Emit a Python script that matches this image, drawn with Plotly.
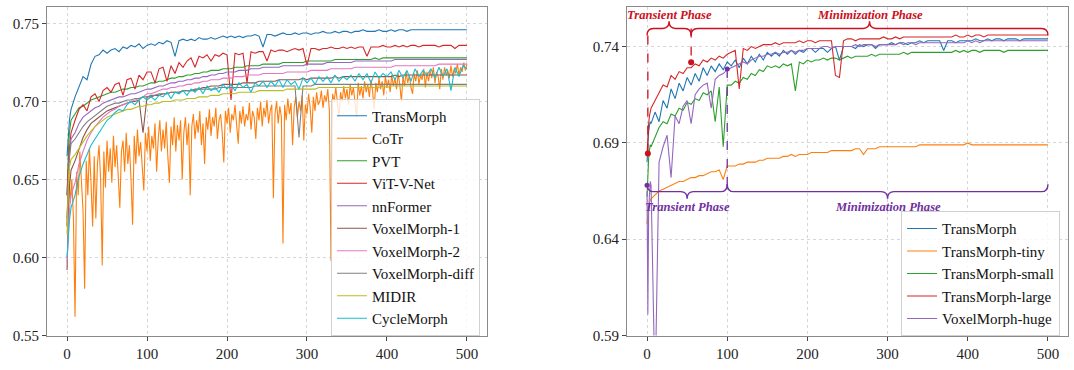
import plotly.graph_objects as go

# ---------------- data ----------------
EPOCHS = [0, 1, 2, 3, 4] + list(range(5, 501, 5))
COTR_EPOCHS = list(range(0, 501, 2))
X_TICKS = [0, 100, 200, 300, 400, 500]
L_YTICKS = [0.55, 0.60, 0.65, 0.70, 0.75]
R_YTICKS = [0.59, 0.64, 0.69, 0.74]

L_NAMES = ["TransMorph", "CoTr", "PVT", "ViT-V-Net", "nnFormer", "VoxelMorph-1",
           "VoxelMorph-2", "VoxelMorph-diff", "MIDIR", "CycleMorph"]
R_NAMES = ["TransMorph", "TransMorph-tiny", "TransMorph-small", "TransMorph-large", "VoxelMorph-huge"]

L_TM = [0.665, 0.675, 0.683, 0.688, 0.692,
        0.695, 0.703, 0.710, 0.716, 0.714, 0.724, 0.729, 0.730, 0.733, 0.731,
        0.733, 0.734, 0.732, 0.735, 0.734, 0.736, 0.735, 0.737, 0.734, 0.736,
        0.737, 0.736, 0.738, 0.737, 0.739, 0.738, 0.729, 0.739, 0.740, 0.739,
        0.740, 0.739, 0.741, 0.740, 0.740, 0.741, 0.740, 0.741, 0.742, 0.741,
        0.742, 0.741, 0.742, 0.741, 0.742, 0.742, 0.743, 0.742, 0.735, 0.743,
        0.743, 0.742, 0.743, 0.744, 0.743, 0.743, 0.744, 0.743, 0.744, 0.744,
        0.743, 0.744, 0.744, 0.745, 0.744, 0.744, 0.745, 0.744, 0.745, 0.745,
        0.744, 0.745, 0.745, 0.746, 0.745, 0.745, 0.745, 0.746, 0.745, 0.745,
        0.746, 0.745, 0.746, 0.746, 0.745, 0.746, 0.746, 0.746, 0.746, 0.746,
        0.746, 0.746, 0.746, 0.746, 0.746, 0.746, 0.746, 0.746, 0.746, 0.746]
L_COTR = [0.620, 0.660, 0.635, 0.650, 0.625, 0.562, 0.655, 0.640, 0.668, 0.645,
          0.630, 0.580, 0.662, 0.640, 0.670, 0.648, 0.620, 0.665, 0.625, 0.660,
          0.672, 0.650, 0.595, 0.668, 0.645, 0.675, 0.655, 0.670, 0.648, 0.678,
          0.658, 0.672, 0.650, 0.632, 0.668, 0.675, 0.655, 0.680, 0.660, 0.672,
          0.650, 0.621, 0.678, 0.660, 0.682, 0.665, 0.674, 0.655, 0.643, 0.680,
          0.668, 0.684, 0.662, 0.678, 0.670, 0.686, 0.655, 0.676, 0.688, 0.668,
          0.682, 0.670, 0.687, 0.665, 0.648, 0.684, 0.672, 0.690, 0.668, 0.685,
          0.675, 0.688, 0.650, 0.680, 0.690, 0.672, 0.686, 0.640, 0.684, 0.692,
          0.676, 0.688, 0.680, 0.694, 0.672, 0.686, 0.660, 0.690, 0.682, 0.695,
          0.678, 0.690, 0.684, 0.696, 0.676, 0.688, 0.692, 0.680, 0.661, 0.694,
          0.686, 0.696, 0.680, 0.692, 0.688, 0.698, 0.682, 0.673, 0.694, 0.686,
          0.697, 0.684, 0.692, 0.688, 0.699, 0.682, 0.694, 0.690, 0.676, 0.696,
          0.688, 0.700, 0.684, 0.696, 0.690, 0.701, 0.686, 0.694, 0.698, 0.638,
          0.692, 0.700, 0.686, 0.697, 0.690, 0.609, 0.698, 0.688, 0.702, 0.692,
          0.699, 0.672, 0.696, 0.703, 0.690, 0.700, 0.694, 0.704, 0.675, 0.698,
          0.692, 0.705, 0.696, 0.680, 0.703, 0.694, 0.706, 0.698, 0.700, 0.707,
          0.696, 0.704, 0.700, 0.708, 0.694, 0.598, 0.705, 0.700, 0.709, 0.697,
          0.690, 0.706, 0.700, 0.710, 0.702, 0.708, 0.698, 0.711, 0.704, 0.709,
          0.700, 0.690, 0.712, 0.704, 0.710, 0.702, 0.713, 0.706, 0.711, 0.703,
          0.714, 0.707, 0.695, 0.712, 0.706, 0.715, 0.708, 0.713, 0.704, 0.716,
          0.709, 0.714, 0.706, 0.717, 0.710, 0.715, 0.708, 0.718, 0.711, 0.700,
          0.716, 0.710, 0.719, 0.712, 0.717, 0.709, 0.705, 0.718, 0.713, 0.720,
          0.711, 0.717, 0.714, 0.721, 0.709, 0.719, 0.713, 0.720, 0.715, 0.722,
          0.712, 0.719, 0.716, 0.708, 0.721, 0.714, 0.722, 0.717, 0.720, 0.715,
          0.723, 0.716, 0.721, 0.718, 0.724, 0.717, 0.722, 0.719, 0.725, 0.720,
          0.724]
L_PVT = [0.640, 0.660, 0.672, 0.680, 0.685,
         0.688, 0.692, 0.696, 0.697, 0.699, 0.701, 0.702, 0.703, 0.704, 0.705,
         0.706, 0.706, 0.707, 0.708, 0.708, 0.709, 0.709, 0.710, 0.710, 0.711,
         0.712, 0.712, 0.713, 0.713, 0.714, 0.715, 0.715, 0.716, 0.716, 0.717,
         0.717, 0.718, 0.718, 0.719, 0.719, 0.720, 0.720, 0.720, 0.721, 0.721,
         0.721, 0.722, 0.722, 0.722, 0.723, 0.723, 0.723, 0.723, 0.724, 0.724,
         0.724, 0.724, 0.724, 0.725, 0.725, 0.725, 0.725, 0.725, 0.725, 0.726,
         0.726, 0.726, 0.726, 0.726, 0.726, 0.726, 0.727, 0.727, 0.727, 0.727,
         0.727, 0.727, 0.727, 0.727, 0.727, 0.727, 0.728, 0.727, 0.728, 0.728,
         0.728, 0.728, 0.728, 0.728, 0.728, 0.728, 0.728, 0.728, 0.728, 0.728,
         0.728, 0.728, 0.728, 0.728, 0.728, 0.728, 0.728, 0.728, 0.728, 0.728]
L_VIT = [0.640, 0.655, 0.663, 0.670, 0.675,
         0.680, 0.688, 0.695, 0.698, 0.694, 0.703, 0.705, 0.700, 0.707, 0.709,
         0.706, 0.711, 0.712, 0.704, 0.714, 0.715, 0.708, 0.717, 0.714, 0.719,
         0.719, 0.712, 0.721, 0.722, 0.713, 0.723, 0.718, 0.725, 0.722, 0.726,
         0.728, 0.722, 0.729, 0.728, 0.730, 0.726, 0.730, 0.729, 0.731, 0.730,
         0.701, 0.731, 0.730, 0.731, 0.712, 0.732, 0.731, 0.732, 0.732, 0.726,
         0.733, 0.732, 0.733, 0.733, 0.732, 0.733, 0.734, 0.733, 0.734, 0.723,
         0.734, 0.734, 0.733, 0.734, 0.734, 0.735, 0.734, 0.734, 0.735, 0.734,
         0.735, 0.734, 0.735, 0.735, 0.729, 0.735, 0.735, 0.735, 0.736, 0.735,
         0.735, 0.736, 0.735, 0.736, 0.735, 0.736, 0.736, 0.735, 0.736, 0.736,
         0.736, 0.736, 0.735, 0.736, 0.736, 0.736, 0.734, 0.736, 0.736, 0.736]
L_NNF = [0.620, 0.645, 0.658, 0.666, 0.672,
         0.676, 0.680, 0.686, 0.690, 0.692, 0.694, 0.696, 0.697, 0.699, 0.700,
         0.701, 0.702, 0.703, 0.703, 0.704, 0.705, 0.705, 0.706, 0.707, 0.708,
         0.708, 0.709, 0.710, 0.710, 0.711, 0.712, 0.712, 0.713, 0.713, 0.714,
         0.714, 0.715, 0.715, 0.716, 0.716, 0.717, 0.717, 0.718, 0.718, 0.719,
         0.719, 0.719, 0.720, 0.720, 0.720, 0.721, 0.721, 0.721, 0.722, 0.722,
         0.722, 0.722, 0.722, 0.723, 0.723, 0.723, 0.723, 0.723, 0.723, 0.724,
         0.724, 0.724, 0.724, 0.724, 0.725, 0.725, 0.725, 0.725, 0.725, 0.725,
         0.725, 0.726, 0.726, 0.726, 0.726, 0.726, 0.726, 0.726, 0.726, 0.726,
         0.726, 0.727, 0.727, 0.727, 0.727, 0.727, 0.727, 0.727, 0.727, 0.727,
         0.727, 0.727, 0.727, 0.727, 0.727, 0.727, 0.727, 0.727, 0.727, 0.727]
L_VM1 = [0.592, 0.620, 0.635, 0.645, 0.652,
         0.656, 0.662, 0.670, 0.677, 0.682, 0.686, 0.688, 0.690, 0.692, 0.694,
         0.695, 0.696, 0.697, 0.698, 0.699, 0.700, 0.700, 0.701, 0.680, 0.703,
         0.703, 0.704, 0.704, 0.705, 0.705, 0.706, 0.706, 0.706, 0.707, 0.707,
         0.707, 0.708, 0.708, 0.709, 0.709, 0.710, 0.710, 0.710, 0.711, 0.711,
         0.711, 0.711, 0.711, 0.712, 0.712, 0.712, 0.712, 0.713, 0.713, 0.713,
         0.713, 0.713, 0.714, 0.714, 0.714, 0.714, 0.714, 0.714, 0.715, 0.714,
         0.715, 0.715, 0.715, 0.715, 0.715, 0.715, 0.716, 0.715, 0.716, 0.716,
         0.716, 0.716, 0.716, 0.716, 0.716, 0.716, 0.716, 0.716, 0.716, 0.716,
         0.716, 0.717, 0.716, 0.717, 0.717, 0.717, 0.717, 0.717, 0.717, 0.717,
         0.717, 0.717, 0.717, 0.717, 0.717, 0.717, 0.717, 0.717, 0.717, 0.717]
L_VM2 = [0.597, 0.612, 0.622, 0.630, 0.636,
         0.640, 0.648, 0.660, 0.668, 0.675, 0.680, 0.684, 0.687, 0.690, 0.692,
         0.694, 0.695, 0.697, 0.698, 0.699, 0.700, 0.701, 0.702, 0.703, 0.705,
         0.705, 0.706, 0.707, 0.708, 0.708, 0.709, 0.709, 0.710, 0.710, 0.711,
         0.711, 0.712, 0.712, 0.713, 0.713, 0.714, 0.714, 0.714, 0.715, 0.715,
         0.715, 0.716, 0.716, 0.716, 0.717, 0.717, 0.717, 0.717, 0.718, 0.718,
         0.718, 0.718, 0.718, 0.718, 0.719, 0.719, 0.719, 0.719, 0.719, 0.719,
         0.720, 0.720, 0.720, 0.720, 0.720, 0.721, 0.721, 0.721, 0.721, 0.721,
         0.721, 0.722, 0.722, 0.722, 0.722, 0.722, 0.722, 0.722, 0.722, 0.722,
         0.722, 0.723, 0.723, 0.723, 0.723, 0.723, 0.723, 0.723, 0.723, 0.723,
         0.723, 0.723, 0.724, 0.724, 0.724, 0.724, 0.724, 0.724, 0.724, 0.724]
L_VMD = [0.625, 0.645, 0.656, 0.664, 0.670,
         0.673, 0.676, 0.680, 0.684, 0.687, 0.689, 0.691, 0.693, 0.695, 0.697,
         0.698, 0.699, 0.699, 0.700, 0.701, 0.701, 0.702, 0.702, 0.703, 0.703,
         0.704, 0.704, 0.705, 0.705, 0.705, 0.706, 0.706, 0.706, 0.707, 0.707,
         0.707, 0.707, 0.708, 0.708, 0.708, 0.708, 0.708, 0.709, 0.709, 0.709,
         0.709, 0.709, 0.709, 0.709, 0.709, 0.709, 0.710, 0.710, 0.710, 0.710,
         0.710, 0.710, 0.710, 0.710, 0.710, 0.710, 0.710, 0.677, 0.710, 0.710,
         0.710, 0.711, 0.711, 0.711, 0.711, 0.711, 0.711, 0.711, 0.711, 0.711,
         0.711, 0.711, 0.711, 0.711, 0.711, 0.711, 0.711, 0.711, 0.711, 0.711,
         0.711, 0.711, 0.711, 0.711, 0.711, 0.711, 0.711, 0.711, 0.711, 0.711,
         0.711, 0.711, 0.711, 0.711, 0.711, 0.711, 0.711, 0.711, 0.711, 0.711]
L_MIDIR = [0.615, 0.640, 0.652, 0.658, 0.661,
           0.663, 0.666, 0.670, 0.674, 0.678, 0.681, 0.684, 0.686, 0.688, 0.690,
           0.691, 0.692, 0.693, 0.694, 0.695, 0.695, 0.696, 0.697, 0.697, 0.698,
           0.698, 0.699, 0.699, 0.700, 0.700, 0.700, 0.701, 0.701, 0.701, 0.702,
           0.702, 0.702, 0.703, 0.703, 0.703, 0.704, 0.704, 0.704, 0.705, 0.705,
           0.705, 0.705, 0.706, 0.706, 0.706, 0.706, 0.706, 0.707, 0.707, 0.707,
           0.707, 0.707, 0.707, 0.707, 0.708, 0.708, 0.708, 0.708, 0.708, 0.708,
           0.708, 0.708, 0.709, 0.709, 0.709, 0.709, 0.709, 0.709, 0.709, 0.709,
           0.709, 0.709, 0.709, 0.709, 0.709, 0.709, 0.709, 0.709, 0.710, 0.709,
           0.710, 0.710, 0.710, 0.710, 0.710, 0.710, 0.710, 0.710, 0.710, 0.710,
           0.710, 0.710, 0.710, 0.710, 0.710, 0.710, 0.710, 0.710, 0.710, 0.710]
L_CYCLE = [0.600, 0.610, 0.618, 0.624, 0.628,
           0.632, 0.640, 0.652, 0.660, 0.666, 0.672, 0.676, 0.680, 0.684, 0.688,
           0.690, 0.693, 0.695, 0.694, 0.698, 0.700, 0.698, 0.701, 0.703, 0.701,
           0.703, 0.701, 0.704, 0.703, 0.706, 0.702, 0.706, 0.705, 0.707, 0.704,
           0.708, 0.706, 0.709, 0.705, 0.710, 0.707, 0.709, 0.706, 0.711, 0.708,
           0.711, 0.707, 0.712, 0.709, 0.711, 0.706, 0.712, 0.710, 0.713, 0.709,
           0.713, 0.710, 0.714, 0.709, 0.714, 0.711, 0.713, 0.708, 0.715, 0.712,
           0.715, 0.711, 0.716, 0.713, 0.716, 0.712, 0.717, 0.713, 0.716, 0.714,
           0.717, 0.713, 0.718, 0.714, 0.718, 0.712, 0.719, 0.715, 0.718, 0.716,
           0.719, 0.714, 0.720, 0.715, 0.720, 0.713, 0.721, 0.716, 0.720, 0.717,
           0.721, 0.715, 0.722, 0.716, 0.721, 0.707, 0.722, 0.716, 0.723, 0.721]

R_TM = [0.680, 0.690, 0.696, 0.699, 0.701,
        0.700, 0.706, 0.701, 0.712, 0.708, 0.718, 0.713, 0.721, 0.717, 0.724,
        0.720, 0.726, 0.722, 0.729, 0.725, 0.730, 0.727, 0.731, 0.728, 0.732,
        0.730, 0.733, 0.729, 0.734, 0.731, 0.735, 0.732, 0.736, 0.733, 0.737,
        0.735, 0.737, 0.735, 0.738, 0.736, 0.738, 0.736, 0.738, 0.737, 0.739,
        0.739, 0.737, 0.739, 0.739, 0.737, 0.739, 0.740, 0.733, 0.740, 0.740,
        0.740, 0.739, 0.741, 0.740, 0.741, 0.741, 0.739, 0.741, 0.741, 0.741,
        0.742, 0.741, 0.742, 0.742, 0.741, 0.742, 0.742, 0.743, 0.742, 0.743,
        0.743, 0.743, 0.743, 0.738, 0.743, 0.743, 0.742, 0.743, 0.743, 0.743,
        0.743, 0.744, 0.743, 0.743, 0.744, 0.743, 0.744, 0.744, 0.743, 0.744,
        0.744, 0.744, 0.743, 0.744, 0.744, 0.744, 0.744, 0.744, 0.744, 0.744]
R_TINY = [0.648, 0.654, 0.657, 0.659, 0.660,
          0.661, 0.663, 0.665, 0.666, 0.667, 0.668, 0.669, 0.670, 0.670, 0.671,
          0.672, 0.672, 0.673, 0.673, 0.674, 0.675, 0.675, 0.676, 0.671, 0.678,
          0.678, 0.678, 0.679, 0.679, 0.680, 0.680, 0.680, 0.681, 0.681, 0.682,
          0.682, 0.682, 0.682, 0.683, 0.683, 0.684, 0.683, 0.684, 0.684, 0.684,
          0.685, 0.685, 0.685, 0.685, 0.685, 0.686, 0.686, 0.686, 0.686, 0.686,
          0.686, 0.687, 0.687, 0.684, 0.687, 0.687, 0.687, 0.688, 0.688, 0.688,
          0.688, 0.688, 0.688, 0.688, 0.688, 0.688, 0.688, 0.689, 0.689, 0.689,
          0.689, 0.689, 0.689, 0.689, 0.689, 0.689, 0.689, 0.689, 0.689, 0.690,
          0.689, 0.689, 0.689, 0.689, 0.689, 0.689, 0.689, 0.689, 0.689, 0.689,
          0.689, 0.689, 0.689, 0.689, 0.689, 0.689, 0.689, 0.689, 0.689, 0.689]
R_SMALL = [0.662, 0.676, 0.682, 0.686, 0.689,
           0.688, 0.693, 0.698, 0.701, 0.700, 0.705, 0.704, 0.708, 0.707, 0.711,
           0.710, 0.713, 0.712, 0.716, 0.715, 0.717, 0.701, 0.719, 0.688, 0.720,
           0.720, 0.722, 0.721, 0.724, 0.723, 0.726, 0.725, 0.728, 0.727, 0.730,
           0.729, 0.730, 0.729, 0.731, 0.730, 0.731, 0.717, 0.732, 0.731, 0.733,
           0.732, 0.733, 0.733, 0.734, 0.733, 0.734, 0.734, 0.733, 0.734, 0.735,
           0.734, 0.735, 0.735, 0.735, 0.735, 0.736, 0.735, 0.736, 0.736, 0.736,
           0.736, 0.736, 0.736, 0.737, 0.736, 0.737, 0.737, 0.737, 0.737, 0.737,
           0.737, 0.737, 0.737, 0.737, 0.737, 0.737, 0.738, 0.737, 0.738, 0.737,
           0.738, 0.738, 0.737, 0.738, 0.738, 0.738, 0.738, 0.738, 0.737, 0.738,
           0.738, 0.738, 0.738, 0.738, 0.738, 0.738, 0.738, 0.738, 0.738, 0.738]
R_LARGE = [0.684, 0.695, 0.700, 0.704, 0.707,
           0.708, 0.712, 0.716, 0.720, 0.719, 0.725, 0.723, 0.727, 0.726, 0.729,
           0.729, 0.731, 0.730, 0.733, 0.732, 0.734, 0.733, 0.735, 0.734, 0.736,
           0.737, 0.738, 0.718, 0.739, 0.738, 0.740, 0.739, 0.740, 0.741, 0.741,
           0.741, 0.742, 0.741, 0.742, 0.742, 0.742, 0.742, 0.743, 0.742, 0.743,
           0.743, 0.742, 0.743, 0.743, 0.743, 0.743, 0.725, 0.724, 0.743, 0.744,
           0.744, 0.743, 0.744, 0.744, 0.744, 0.744, 0.744, 0.744, 0.745, 0.744,
           0.744, 0.745, 0.744, 0.745, 0.745, 0.745, 0.745, 0.745, 0.745, 0.745,
           0.745, 0.745, 0.745, 0.745, 0.745, 0.745, 0.746, 0.745, 0.745, 0.746,
           0.745, 0.746, 0.746, 0.745, 0.746, 0.746, 0.746, 0.746, 0.746, 0.746,
           0.746, 0.746, 0.746, 0.746, 0.746, 0.746, 0.746, 0.746, 0.746, 0.746]
R_VMH = [0.665, 0.601, 0.655, 0.662, 0.670,
         0.668, 0.560, 0.680, 0.688, 0.694, 0.672, 0.704, 0.700, 0.709, 0.712,
         0.700, 0.715, 0.718, 0.720, 0.721, 0.708, 0.723, 0.725, 0.726, 0.728,
         0.729, 0.730, 0.731, 0.732, 0.731, 0.733, 0.734, 0.735, 0.735, 0.736,
         0.736, 0.737, 0.736, 0.737, 0.737, 0.738, 0.737, 0.738, 0.738, 0.739,
         0.739, 0.739, 0.739, 0.740, 0.740, 0.739, 0.740, 0.740, 0.740, 0.740,
         0.740, 0.741, 0.740, 0.741, 0.741, 0.741, 0.740, 0.741, 0.741, 0.741,
         0.741, 0.741, 0.742, 0.741, 0.742, 0.742, 0.741, 0.742, 0.742, 0.742,
         0.742, 0.742, 0.742, 0.742, 0.742, 0.742, 0.742, 0.742, 0.742, 0.743,
         0.742, 0.743, 0.742, 0.743, 0.743, 0.743, 0.743, 0.743, 0.743, 0.743,
         0.743, 0.743, 0.743, 0.743, 0.743, 0.743, 0.743, 0.743, 0.743, 0.743]

L_SERIES = [L_TM, L_COTR, L_PVT, L_VIT, L_NNF, L_VM1, L_VM2, L_VMD, L_MIDIR, L_CYCLE]
L_XS = [EPOCHS, COTR_EPOCHS] + [EPOCHS] * 8
R_SERIES = [R_TM, R_TINY, R_SMALL, R_LARGE, R_VMH]

# phase annotations (right panel)
RED_PHASES = [0, 55, 500]        # transient -> minimization boundaries (TransMorph-large)
RED_DOTS_Y = [0.6845, 0.7318]
PURPLE_PHASES = [0, 100, 500]    # (VoxelMorph-huge)
PURPLE_DOTS_Y = [0.668, 0.7284]
PHASE_LABELS = ["Transient Phase", "Minimization Phase"]

# ---------------- styling ----------------
TAB10 = ["#1f77b4", "#ff7f0e", "#2ca02c", "#d62728", "#9467bd",
         "#8c564b", "#e377c2", "#7f7f7f", "#bcbd22", "#17becf"]
RED_ANN = "#cc1020"
PUR_ANN = "#7030a0"
FONT = "Liberation Serif"

for xs, s in zip(L_XS, L_SERIES):
    assert len(s) == len(xs), len(s)
for s in R_SERIES:
    assert len(s) == len(EPOCHS), len(s)

fig = go.Figure()
for name, xs, ys, col in zip(L_NAMES, L_XS, L_SERIES, TAB10):
    fig.add_trace(go.Scatter(x=xs, y=ys, mode="lines", name=name,
                             line=dict(color=col, width=1.1),
                             xaxis="x", yaxis="y", legend="legend"))
for name, ys, col in zip(R_NAMES, R_SERIES, TAB10):
    fig.add_trace(go.Scatter(x=EPOCHS, y=ys, mode="lines", name=name,
                             line=dict(color=col, width=1.1),
                             xaxis="x2", yaxis="y2", legend="legend2"))


def brace(x0, x1, yb, ye, yt, r):
    xm = (x0 + x1) / 2
    return (f"M {x0},{ye} Q {x0},{yb} {x0 + r},{yb} L {xm - r},{yb} "
            f"Q {xm},{yb} {xm},{yt} Q {xm},{yb} {xm + r},{yb} L {x1 - r},{yb} "
            f"Q {x1},{yb} {x1},{ye}")


shapes = []
RB, RE, RT = 0.7494, 0.7458, 0.7531
PB, PE, PT = 0.6647, 0.6686, 0.6610
for a, b in zip(RED_PHASES[:-1], RED_PHASES[1:]):
    shapes.append(dict(type="path", xref="x2", yref="y2",
                       path=brace(a, b, RB, RE, RT, 8),
                       line=dict(color=RED_ANN, width=1.4)))
for a, b in zip(PURPLE_PHASES[:-1], PURPLE_PHASES[1:]):
    shapes.append(dict(type="path", xref="x2", yref="y2",
                       path=brace(a, b, PB, PE, PT, 8),
                       line=dict(color=PUR_ANN, width=1.4)))

fig.add_trace(go.Scatter(x=[RED_PHASES[0] + 1, RED_PHASES[0] + 1], y=[RE, RED_DOTS_Y[0]], mode="lines",
                         line=dict(color=RED_ANN, width=1.3, dash="dash"), showlegend=False,
                         xaxis="x2", yaxis="y2", hoverinfo="skip"))
fig.add_trace(go.Scatter(x=[RED_PHASES[1], RED_PHASES[1]], y=[RB, RED_DOTS_Y[1]], mode="lines",
                         line=dict(color=RED_ANN, width=1.3, dash="dash"), showlegend=False,
                         xaxis="x2", yaxis="y2", hoverinfo="skip"))
fig.add_trace(go.Scatter(x=[PURPLE_PHASES[1], PURPLE_PHASES[1]], y=[PURPLE_DOTS_Y[1], PB], mode="lines",
                         line=dict(color=PUR_ANN, width=1.3, dash="dash"), showlegend=False,
                         xaxis="x2", yaxis="y2", hoverinfo="skip"))
fig.add_trace(go.Scatter(x=[RED_PHASES[0] + 1, RED_PHASES[1]], y=RED_DOTS_Y, mode="markers",
                         marker=dict(color=RED_ANN, size=6), showlegend=False,
                         xaxis="x2", yaxis="y2", hoverinfo="skip"))
fig.add_trace(go.Scatter(x=[PURPLE_PHASES[0], PURPLE_PHASES[1]], y=PURPLE_DOTS_Y, mode="markers",
                         marker=dict(color=PUR_ANN, size=5), showlegend=False,
                         xaxis="x2", yaxis="y2", hoverinfo="skip"))

annotations = []
afont = dict(family=FONT, size=12.6)
for (a, b), lab in zip(zip(RED_PHASES[:-1], RED_PHASES[1:]), PHASE_LABELS):
    annotations.append(dict(x=(a + b) / 2, y=0.7565, xref="x2", yref="y2", showarrow=False,
                            text=f"<b><i>{lab}</i></b>", font=dict(color=RED_ANN, **afont)))
for (a, b), lab in zip(zip(PURPLE_PHASES[:-1], PURPLE_PHASES[1:]), PHASE_LABELS):
    annotations.append(dict(x=(a + b) / 2, y=0.6569, xref="x2", yref="y2", showarrow=False,
                            text=f"<b><i>{lab}</i></b>", font=dict(color=PUR_ANN, **afont)))

tickfont = dict(family=FONT, size=15, color="#222")
common_x = dict(range=[-25, 525], tickvals=X_TICKS, showgrid=True, gridcolor="#d6d6d6",
                griddash="dot", gridwidth=1, showline=True, mirror=True, linecolor="#8a8a8a",
                linewidth=1.2, ticks="outside", ticklen=4, tickcolor="#444", zeroline=False,
                tickfont=tickfont)
common_y = dict(showgrid=True, gridcolor="#d6d6d6", griddash="dot", gridwidth=1,
                showline=True, mirror=True, linecolor="#8a8a8a", linewidth=1.2,
                ticks="outside", ticklen=4, tickcolor="#444", zeroline=False, tickfont=tickfont)

legfont = dict(family=FONT, size=15, color="#111")
fig.update_layout(
    width=1074, height=370,
    margin=dict(l=0, r=0, t=0, b=0),
    paper_bgcolor="white", plot_bgcolor="white",
    showlegend=True,
    xaxis=dict(domain=[0.0438, 0.4534], anchor="y", **common_x),
    yaxis=dict(domain=[0.073, 0.981], anchor="x", range=[0.55, 0.7607],
               tickvals=L_YTICKS, tickformat=".2f", **common_y),
    xaxis2=dict(domain=[0.5838, 0.9944], anchor="y2", **common_x),
    yaxis2=dict(domain=[0.073, 0.981], anchor="x2", range=[0.59, 0.7606],
                tickvals=R_YTICKS, tickformat=".2f", **common_y),
    legend=dict(x=0.4469, y=0.073, xanchor="right", yanchor="bottom",
                bgcolor="rgba(255,255,255,0.8)", bordercolor="#d0d0d0", borderwidth=1,
                font=legfont, tracegroupgap=0),
    legend2=dict(x=0.987, y=0.071, xanchor="right", yanchor="bottom",
                 bgcolor="rgba(255,255,255,0.8)", bordercolor="#d0d0d0", borderwidth=1,
                 font=legfont, tracegroupgap=0),
    shapes=shapes,
    annotations=annotations,
)

fig.write_html("out.html")
